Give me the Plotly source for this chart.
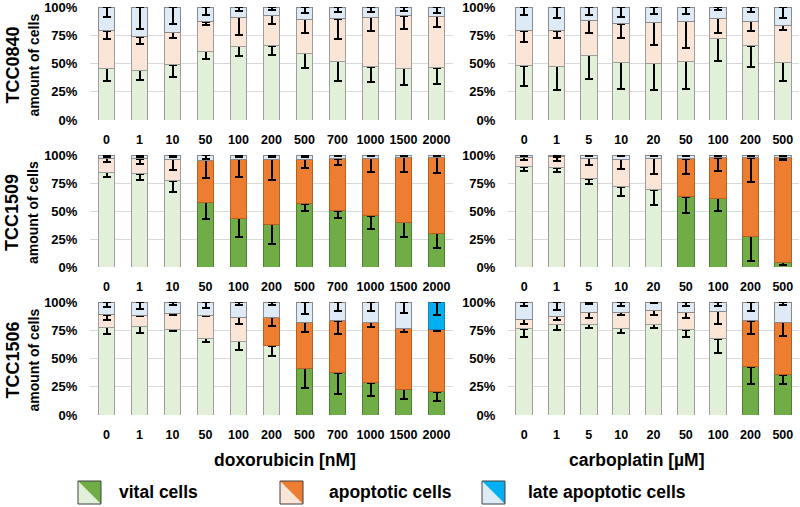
import plotly.graph_objects as go

# concentrations
doxo_conc = ["0", "1", "10", "50", "100", "200", "500", "700", "1000", "1500", "2000"]
carbo_conc = ["0", "1", "5", "10", "20", "50", "100", "200", "500"]

# percent of cells per segment
tcc0840_doxo_vital = [45.7, 44.0, 49.0, 60.8, 65.2, 65.5, 59.0, 52.2, 47.2, 45.7, 46.3]
tcc0840_doxo_apop = [33.4, 29.7, 28.6, 26.2, 25.7, 27.1, 30.0, 37.5, 43.7, 46.6, 45.7]
tcc0840_doxo_late = [20.9, 26.3, 22.4, 13.0, 9.1, 7.4, 11.0, 10.3, 9.1, 7.7, 8.0]
tcc0840_doxo_vital_err = [11.0, 9.0, 10.7, 7.0, 8.6, 8.0, 13.3, 17.4, 14.0, 14.7, 14.0]
tcc0840_doxo_apop_err = [7.4, 6.0, 4.7, 3.0, 16.0, 7.6, 12.4, 18.0, 12.0, 12.0, 9.4]
tcc0840_doxo_late_err = [8.6, 19.8, 15.0, 7.0, 3.5, 2.7, 5.6, 4.7, 4.7, 3.2, 5.6]

tcc0840_carbo_vital = [47.8, 47.5, 57.2, 51.3, 50.1, 52.2, 72.3, 65.5, 51.0]
tcc0840_carbo_apop = [31.3, 31.5, 31.3, 34.0, 36.6, 35.1, 17.7, 22.1, 32.8]
tcc0840_carbo_late = [20.9, 21.0, 11.5, 14.7, 13.3, 12.7, 10.0, 12.4, 16.2]
tcc0840_carbo_vital_err = [17.7, 21.0, 21.0, 23.6, 23.6, 25.0, 20.0, 18.3, 16.5]
tcc0840_carbo_apop_err = [10.4, 6.8, 11.8, 13.0, 20.3, 23.3, 13.3, 8.8, 4.2]
tcc0840_carbo_late_err = [7.0, 10.0, 7.0, 9.0, 6.5, 6.2, 2.5, 4.7, 10.0]

tcc1509_doxo_vital = [84.6, 83.1, 77.2, 57.6, 43.6, 38.3, 56.4, 50.1, 45.7, 39.9, 30.3]
tcc1509_doxo_apop = [12.4, 13.6, 19.2, 37.9, 52.8, 58.1, 40.0, 46.6, 51.3, 58.0, 67.6]
tcc1509_doxo_late = [3.0, 3.3, 3.6, 4.5, 3.6, 3.6, 3.6, 3.3, 3.0, 2.1, 2.1]
tcc1509_doxo_vital_err = [3.9, 5.4, 10.4, 14.9, 17.0, 17.5, 6.8, 5.9, 11.9, 13.0, 13.4]
tcc1509_doxo_apop_err = [3.5, 4.7, 9.8, 16.3, 15.7, 18.7, 8.3, 5.9, 11.8, 13.4, 14.2]
tcc1509_doxo_late_err = [1.5, 1.5, 1.5, 3.9, 1.5, 1.5, 1.5, 1.0, 1.0, 1.0, 1.0]

tcc1509_carbo_vital = [89.6, 88.8, 79.0, 71.6, 68.9, 62.7, 61.5, 27.5, 4.4]
tcc1509_carbo_apop = [8.3, 9.7, 18.0, 24.6, 28.1, 34.0, 36.1, 70.1, 93.2]
tcc1509_carbo_late = [2.1, 1.5, 3.0, 3.8, 3.0, 3.3, 2.4, 2.4, 2.4]
tcc1509_carbo_vital_err = [3.8, 3.6, 5.0, 8.0, 13.6, 14.5, 11.5, 22.5, 2.4]
tcc1509_carbo_apop_err = [2.6, 4.0, 6.0, 8.3, 13.6, 13.9, 11.8, 21.6, 2.4]
tcc1509_carbo_late_err = [1.0, 1.0, 1.0, 1.0, 1.0, 1.0, 1.0, 1.0, 1.0]

tcc1506_doxo_vital = [77.5, 78.4, 75.4, 68.0, 65.1, 61.2, 41.4, 37.6, 28.7, 22.7, 20.7]
tcc1506_doxo_apop = [11.3, 9.8, 14.8, 20.2, 21.6, 25.5, 40.6, 45.8, 53.3, 54.0, 54.7]
tcc1506_doxo_late = [11.2, 11.8, 9.8, 11.8, 13.3, 13.3, 18.0, 16.6, 18.0, 23.3, 24.6]
tcc1506_doxo_vital_err = [5.9, 5.9, 1.4, 3.8, 7.4, 9.4, 17.7, 19.0, 11.8, 8.5, 8.3]
tcc1506_doxo_apop_err = [4.5, 0.9, 2.0, 0.9, 6.2, 8.3, 8.9, 11.5, 4.5, 3.5, 1.5]
tcc1506_doxo_late_err = [4.4, 6.0, 2.4, 5.3, 3.0, 3.0, 10.7, 7.7, 8.3, 10.0, 11.2]

tcc1506_carbo_vital = [76.3, 80.5, 80.5, 76.9, 80.5, 75.4, 67.5, 42.9, 35.5]
tcc1506_carbo_apop = [8.6, 6.8, 10.6, 14.2, 12.1, 15.7, 24.2, 40.5, 46.5]
tcc1506_carbo_late = [15.1, 12.7, 8.9, 8.9, 7.4, 8.9, 8.3, 16.6, 18.0]
tcc1506_carbo_vital_err = [7.7, 5.6, 3.6, 4.4, 3.6, 6.5, 12.8, 15.7, 8.3]
tcc1506_carbo_apop_err = [4.4, 3.6, 5.3, 2.9, 4.4, 5.3, 11.2, 11.8, 11.9]
tcc1506_carbo_late_err = [3.8, 7.4, 1.5, 3.8, 1.0, 3.8, 3.8, 8.3, 3.0]

# 1 = significant (saturated colour), 0 = not significant (pale)
tcc0840_doxo_sig = ([0] * 11, [0] * 11, [0] * 11)
tcc0840_carbo_sig = ([0] * 9, [0] * 9, [0] * 9)
tcc1509_doxo_sig = ([0, 0, 0, 1, 1, 1, 1, 1, 1, 1, 1], [0, 0, 0, 1, 1, 1, 1, 1, 1, 1, 1], [0] * 11)
tcc1509_carbo_sig = ([0, 0, 0, 0, 0, 1, 1, 1, 1], [0, 0, 0, 0, 0, 1, 1, 1, 1], [0] * 9)
tcc1506_doxo_sig = ([0, 0, 0, 0, 0, 0, 1, 1, 1, 1, 1], [0, 0, 0, 0, 0, 1, 1, 1, 1, 1, 1],
                    [0, 0, 0, 0, 0, 0, 0, 0, 0, 0, 1])
tcc1506_carbo_sig = ([0, 0, 0, 0, 0, 0, 0, 1, 1], [0, 0, 0, 0, 0, 0, 0, 1, 1], [0] * 9)

cell_lines = ["TCC0840", "TCC1509", "TCC1506"]
series_names = ["vital cells", "apoptotic cells", "late apoptotic cells"]

W, H = 800, 507
FONT = "Liberation Sans, Arial, sans-serif"

# (saturated, pale, outline saturated, outline pale)
colors = [
    ("#70AD47", "#E2F0D9", "#507E32", "#9E9E9E"),
    ("#ED7D31", "#FBE5D6", "#B8601F", "#9E9E9E"),
    ("#00B0F0", "#DEEBF7", "#1F7FB0", "#8A8A8A"),
]

panels = [
    (doxo_conc, [tcc0840_doxo_vital, tcc0840_doxo_apop, tcc0840_doxo_late],
     [tcc0840_doxo_vital_err, tcc0840_doxo_apop_err, tcc0840_doxo_late_err], tcc0840_doxo_sig),
    (carbo_conc, [tcc0840_carbo_vital, tcc0840_carbo_apop, tcc0840_carbo_late],
     [tcc0840_carbo_vital_err, tcc0840_carbo_apop_err, tcc0840_carbo_late_err], tcc0840_carbo_sig),
    (doxo_conc, [tcc1509_doxo_vital, tcc1509_doxo_apop, tcc1509_doxo_late],
     [tcc1509_doxo_vital_err, tcc1509_doxo_apop_err, tcc1509_doxo_late_err], tcc1509_doxo_sig),
    (carbo_conc, [tcc1509_carbo_vital, tcc1509_carbo_apop, tcc1509_carbo_late],
     [tcc1509_carbo_vital_err, tcc1509_carbo_apop_err, tcc1509_carbo_late_err], tcc1509_carbo_sig),
    (doxo_conc, [tcc1506_doxo_vital, tcc1506_doxo_apop, tcc1506_doxo_late],
     [tcc1506_doxo_vital_err, tcc1506_doxo_apop_err, tcc1506_doxo_late_err], tcc1506_doxo_sig),
    (carbo_conc, [tcc1506_carbo_vital, tcc1506_carbo_apop, tcc1506_carbo_late],
     [tcc1506_carbo_vital_err, tcc1506_carbo_apop_err, tcc1506_carbo_late_err], tcc1506_carbo_sig),
]

rows_px = [(7, 120), (155, 267), (302, 415)]
cols_px = [(90, 453), (508, 799)]


def px_x(x):
    return x / W


def px_y(y):
    return 1 - y / H


fig = go.Figure()
layout = {}

for k, (cats, values, errs, sigs) in enumerate(panels):
    r, c = divmod(k, 2)
    n = k + 1
    xname = "x" if n == 1 else "x%d" % n
    yname = "y" if n == 1 else "y%d" % n
    for s in range(3):
        sat, pale, line_sat, line_pale = colors[s]
        fig.add_trace(go.Bar(
            x=cats,
            y=values[s],
            xaxis=xname,
            yaxis=yname,
            name=series_names[s],
            showlegend=False,
            marker=dict(
                color=[sat if f else pale for f in sigs[s]],
                line=dict(color=[line_sat if f else line_pale for f in sigs[s]], width=1),
            ),
            error_y=dict(
                type="data",
                symmetric=False,
                array=[0] * len(cats),
                arrayminus=errs[s],
                color="black",
                thickness=2,
                width=4,
            ),
        ))

    x0, x1 = cols_px[c]
    y0, y1 = rows_px[r]
    layout["xaxis" if n == 1 else "xaxis%d" % n] = dict(
        domain=[px_x(x0), px_x(x1)],
        anchor=yname,
        type="category",
        automargin=False,
        showgrid=False,
        zeroline=False,
        showline=False,
        ticks="outside",
        ticklen=8,
        tickcolor="rgba(0,0,0,0)",
        ticklabeloverflow="allow",
        tickfont=dict(family=FONT, size=12.5, color="black", weight="bold"),
    )
    layout["yaxis" if n == 1 else "yaxis%d" % n] = dict(
        domain=[px_y(y1), px_y(y0)],
        anchor=xname,
        automargin=False,
        range=[0, 100],
        tickvals=[0, 25, 50, 75, 100],
        ticktext=["0%", "25%", "50%", "75%", "100%"],
        showgrid=True,
        gridcolor="#D9D9D9",
        gridwidth=1,
        zeroline=False,
        showline=False,
        ticks="outside",
        ticklen=9,
        tickcolor="rgba(0,0,0,0)",
        ticklabeloverflow="allow",
        tickfont=dict(family=FONT, size=13, color="black", weight="bold"),
    )

annotations = []
for r, name in enumerate(cell_lines):
    yc = (rows_px[r][0] + rows_px[r][1]) / 2 + 2
    annotations.append(dict(
        text=name, x=px_x(12), y=px_y(yc), xref="paper", yref="paper",
        textangle=-90, showarrow=False, xanchor="center", yanchor="middle",
        font=dict(family=FONT, size=18, color="black", weight="bold"),
    ))
    annotations.append(dict(
        text="amount of cells", x=px_x(33), y=px_y(yc), xref="paper", yref="paper",
        textangle=-90, showarrow=False, xanchor="center", yanchor="middle",
        font=dict(family=FONT, size=14, color="black", weight="bold"),
    ))

for label, xc in [("doxorubicin [nM]", 285), ("carboplatin [µM]", 637)]:
    annotations.append(dict(
        text=label, x=px_x(xc), y=px_y(460), xref="paper", yref="paper",
        showarrow=False, xanchor="center", yanchor="middle",
        font=dict(family=FONT, size=17.5, color="black", weight="bold"),
    ))

# custom legend: split squares, pale lower-left / saturated upper-right
shapes = []
legend_pos = [(78, 117), (280, 327), (482, 526)]
sq_top, sq_bot = 481, 504
for s, (sx, tx) in enumerate(legend_pos):
    sat, pale, line_sat, line_pale = colors[s]
    a, b = px_x(sx), px_x(sx + 23)
    t, btm = px_y(sq_top), px_y(sq_bot)
    shapes.append(dict(type="path", xref="paper", yref="paper",
                       path="M %f,%f L %f,%f L %f,%f Z" % (a, t, a, btm, b, btm),
                       fillcolor=pale, line=dict(width=0)))
    shapes.append(dict(type="path", xref="paper", yref="paper",
                       path="M %f,%f L %f,%f L %f,%f Z" % (a, t, b, t, b, btm),
                       fillcolor=sat, line=dict(width=0)))
    shapes.append(dict(type="rect", xref="paper", yref="paper",
                       x0=a, x1=b, y0=btm, y1=t,
                       line=dict(color="#404040", width=1)))
    annotations.append(dict(
        text=series_names[s], x=px_x(tx), y=px_y(492), xref="paper", yref="paper",
        showarrow=False, xanchor="left", yanchor="middle",
        font=dict(family=FONT, size=17.5, color="black", weight="bold"),
    ))

fig.update_layout(
    width=W,
    height=H,
    margin=dict(l=0, r=0, t=0, b=0, autoexpand=False),
    paper_bgcolor="white",
    plot_bgcolor="white",
    barmode="stack",
    bargap=0.49,
    annotations=annotations,
    shapes=shapes,
    **layout,
)

# drop the default page margin so the 800x507 figure fills the window
fig.write_html("out.html", config={"displayModeBar": False},
               post_script="document.body.style.margin='0';")
